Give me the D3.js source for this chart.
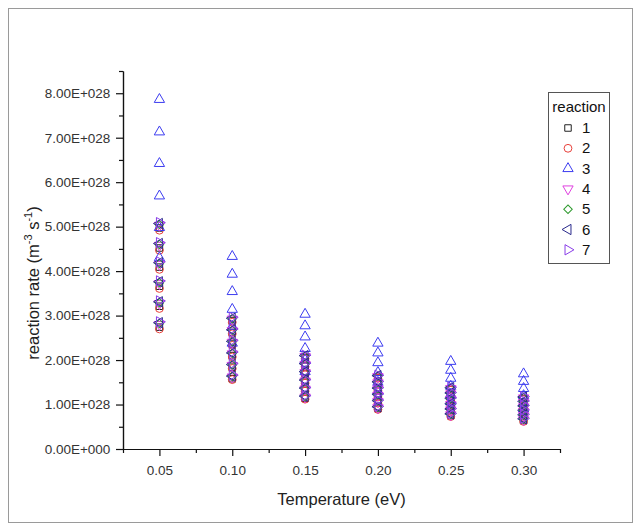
<!DOCTYPE html>
<html>
<head>
<meta charset="utf-8">
<script src="https://cdn.jsdelivr.net/npm/d3@7"></script>
<style>
  body { margin: 0; background: #fff; }
  text { font-family: Arial, "Liberation Sans", sans-serif; }
</style>
</head>
<body>
<div id="chart"></div>
<script>
// temperatures (eV) on the x axis
const temperatures = [0.05, 0.10, 0.15, 0.20, 0.25, 0.30];
const reactions = ["1", "2", "3", "4", "5", "6", "7"];
const xTicks = [0.05, 0.10, 0.15, 0.20, 0.25, 0.30];
const yTicks = [0, 1, 2, 3, 4, 5, 6, 7, 8];

// reaction rates in units of 1e28 m^-3 s^-1, one row per temperature
const rate1 = [
  [4.97, 4.52, 4.09, 3.66, 3.21, 2.74],
  [2.88, 2.62, 2.36, 2.10, 1.84, 1.58],
  [2.05, 1.87, 1.69, 1.50, 1.32, 1.14],
  [1.61, 1.47, 1.33, 1.19, 1.05, 0.91],
  [1.34, 1.22, 1.10, 0.98, 0.86, 0.75],
  [1.13, 1.03, 0.93, 0.83, 0.73, 0.64]
];
const rate2 = [
  [4.92, 4.47, 4.04, 3.61, 3.16, 2.70],
  [2.85, 2.59, 2.33, 2.07, 1.81, 1.56],
  [2.03, 1.85, 1.67, 1.48, 1.30, 1.12],
  [1.59, 1.45, 1.31, 1.17, 1.03, 0.89],
  [1.32, 1.20, 1.08, 0.96, 0.84, 0.73],
  [1.11, 1.01, 0.91, 0.81, 0.71, 0.62]
];
const rate3 = [
  [7.86, 7.13, 6.42, 5.69, 4.98, 4.30],
  [4.33, 3.93, 3.54, 3.14, 2.76, 2.38],
  [3.03, 2.77, 2.52, 2.26, 2.00, 1.74],
  [2.38, 2.16, 1.94, 1.72, 1.50, 1.30],
  [1.97, 1.77, 1.59, 1.41, 1.23, 1.06],
  [1.69, 1.52, 1.36, 1.20, 1.04, 0.90]
];
const rate4 = [
  [5.03, 4.58, 4.15, 3.72, 3.27, 2.80],
  [2.92, 2.66, 2.40, 2.14, 1.88, 1.62],
  [2.08, 1.90, 1.72, 1.53, 1.35, 1.17],
  [1.63, 1.49, 1.35, 1.21, 1.07, 0.93],
  [1.36, 1.24, 1.12, 1.00, 0.88, 0.77],
  [1.15, 1.05, 0.95, 0.85, 0.75, 0.66]
];
const rate5 = [
  [5.05, 4.60, 4.17, 3.74, 3.29, 2.82],
  [2.93, 2.67, 2.41, 2.15, 1.89, 1.63],
  [2.09, 1.91, 1.73, 1.54, 1.36, 1.18],
  [1.64, 1.50, 1.36, 1.22, 1.08, 0.94],
  [1.37, 1.25, 1.13, 1.01, 0.89, 0.78],
  [1.16, 1.06, 0.96, 0.86, 0.76, 0.67]
];
const rate6 = [
  [5.07, 4.62, 4.19, 3.76, 3.31, 2.84],
  [2.94, 2.68, 2.42, 2.16, 1.90, 1.64],
  [2.10, 1.92, 1.74, 1.55, 1.37, 1.19],
  [1.65, 1.51, 1.37, 1.23, 1.09, 0.95],
  [1.38, 1.26, 1.14, 1.02, 0.90, 0.79],
  [1.17, 1.07, 0.97, 0.87, 0.77, 0.68]
];
const rate7 = [
  [5.09, 4.64, 4.21, 3.78, 3.33, 2.86],
  [2.96, 2.70, 2.44, 2.18, 1.92, 1.66],
  [2.11, 1.93, 1.75, 1.56, 1.38, 1.20],
  [1.66, 1.52, 1.38, 1.24, 1.10, 0.96],
  [1.39, 1.27, 1.15, 1.03, 0.91, 0.80],
  [1.18, 1.08, 0.98, 0.88, 0.78, 0.69]
];
const allRates = [rate1, rate2, rate3, rate4, rate5, rate6, rate7];

const colors = ["#222222", "#e8403a", "#3c3cf0", "#e040e0", "#2e9a2e", "#2a2a8c", "#8a3ee8"];
// symbol type + rotation for each reaction
const shapes = [
  {type: d3.symbolSquare, size: 42, rot: 0},
  {type: d3.symbolCircle, size: 48, rot: 0},
  {type: d3.symbolTriangle, size: 46, rot: 0},
  {type: d3.symbolTriangle, size: 46, rot: 180},
  {type: d3.symbolSquare, size: 36, rot: 45},
  {type: d3.symbolTriangle, size: 46, rot: -90},
  {type: d3.symbolTriangle, size: 46, rot: 90}
];

const W = 643, H = 532;
const svg = d3.select("#chart").append("svg")
  .attr("width", W)
  .attr("height", H);

// outer frame
svg.append("rect")
  .attr("x", 8.5).attr("y", 8.5)
  .attr("width", 624).attr("height", 514)
  .attr("fill", "none")
  .attr("stroke", "#9a9a9a");

const x = d3.scaleLinear().domain([0.025, 0.325]).range([123, 560]);
const y = d3.scaleLinear().domain([0, 8.5]).range([449, 71]);

function fmtY(v) {
  if (v === 0) return "0.00E+000";
  return v.toFixed(2) + "E+028";
}

// x axis
const xAxis = svg.append("g")
  .attr("transform", `translate(0,${y(0)})`)
  .call(d3.axisBottom(x).tickValues(xTicks).tickFormat(d3.format(".2f")).tickSize(7).tickSizeOuter(0));
svg.append("g")
  .attr("transform", `translate(0,${y(0)})`)
  .call(d3.axisBottom(x).tickValues(d3.range(0, 7).map(i => 0.025 + i * 0.05)).tickFormat("").tickSize(4).tickSizeOuter(0));

// y axis
const yAxis = svg.append("g")
  .attr("transform", `translate(${x(0.025)},0)`)
  .call(d3.axisLeft(y).tickValues(yTicks).tickFormat(fmtY).tickSize(7).tickSizeOuter(0));
svg.append("g")
  .attr("transform", `translate(${x(0.025)},0)`)
  .call(d3.axisLeft(y).tickValues(d3.range(0, 9).map(i => 0.5 + i)).tickFormat("").tickSize(4).tickSizeOuter(0));

svg.selectAll(".domain, .tick line")
  .attr("stroke", "#111")
  .attr("stroke-width", 1.2);

xAxis.selectAll("text")
  .attr("font-size", 13.5)
  .attr("fill", "#333")
  .attr("dy", "1.2em");
yAxis.selectAll("text")
  .attr("font-size", 13.5)
  .attr("fill", "#333")
  .attr("dx", "-0.2em");

// axis titles
svg.append("text")
  .attr("x", (x(0.025) + x(0.325)) / 2)
  .attr("y", 505)
  .attr("text-anchor", "middle")
  .attr("font-size", 16.5)
  .attr("fill", "#222")
  .text("Temperature (eV)");

const yt = svg.append("text")
  .attr("transform", "translate(39,283) rotate(-90)")
  .attr("text-anchor", "middle")
  .attr("font-size", 16.5)
  .attr("fill", "#222");
yt.append("tspan").text("reaction rate (m");
yt.append("tspan").attr("font-size", 11).attr("dy", -7).text("-3");
yt.append("tspan").attr("dy", 7).text(" s");
yt.append("tspan").attr("font-size", 11).attr("dy", -7).text("-1");
yt.append("tspan").attr("dy", 7).text(")");

// points
const symbolPath = s => d3.symbol().type(s.type).size(s.size)();
reactions.forEach((r, ri) => {
  const pts = [];
  temperatures.forEach((t, ti) => {
    allRates[ri][ti].forEach(v => pts.push({t: t, v: v}));
  });
  svg.append("g")
    .selectAll("path")
    .data(pts)
    .enter()
    .append("path")
    .attr("d", symbolPath(shapes[ri]))
    .attr("transform", d => `translate(${x(d.t)},${y(d.v)}) rotate(${shapes[ri].rot})`)
    .attr("fill", "none")
    .attr("stroke", colors[ri])
    .attr("stroke-width", 1);
});

// legend
const lg = svg.append("g");
lg.append("rect")
  .attr("x", 548.5).attr("y", 92.5)
  .attr("width", 61).attr("height", 171)
  .attr("fill", "#fff")
  .attr("stroke", "#555");
lg.append("text")
  .attr("x", 579).attr("y", 112)
  .attr("text-anchor", "middle")
  .attr("font-size", 15)
  .attr("fill", "#111")
  .text("reaction");
reactions.forEach((r, ri) => {
  const cy = 128 + ri * 20.3;
  lg.append("path")
    .attr("d", symbolPath(shapes[ri]))
    .attr("transform", `translate(568,${cy}) rotate(${shapes[ri].rot})`)
    .attr("fill", "none")
    .attr("stroke", colors[ri]);
  lg.append("text")
    .attr("x", 582).attr("y", cy + 5)
    .attr("font-size", 15)
    .attr("fill", "#111")
    .text(r);
});
</script>
</body>
</html>
